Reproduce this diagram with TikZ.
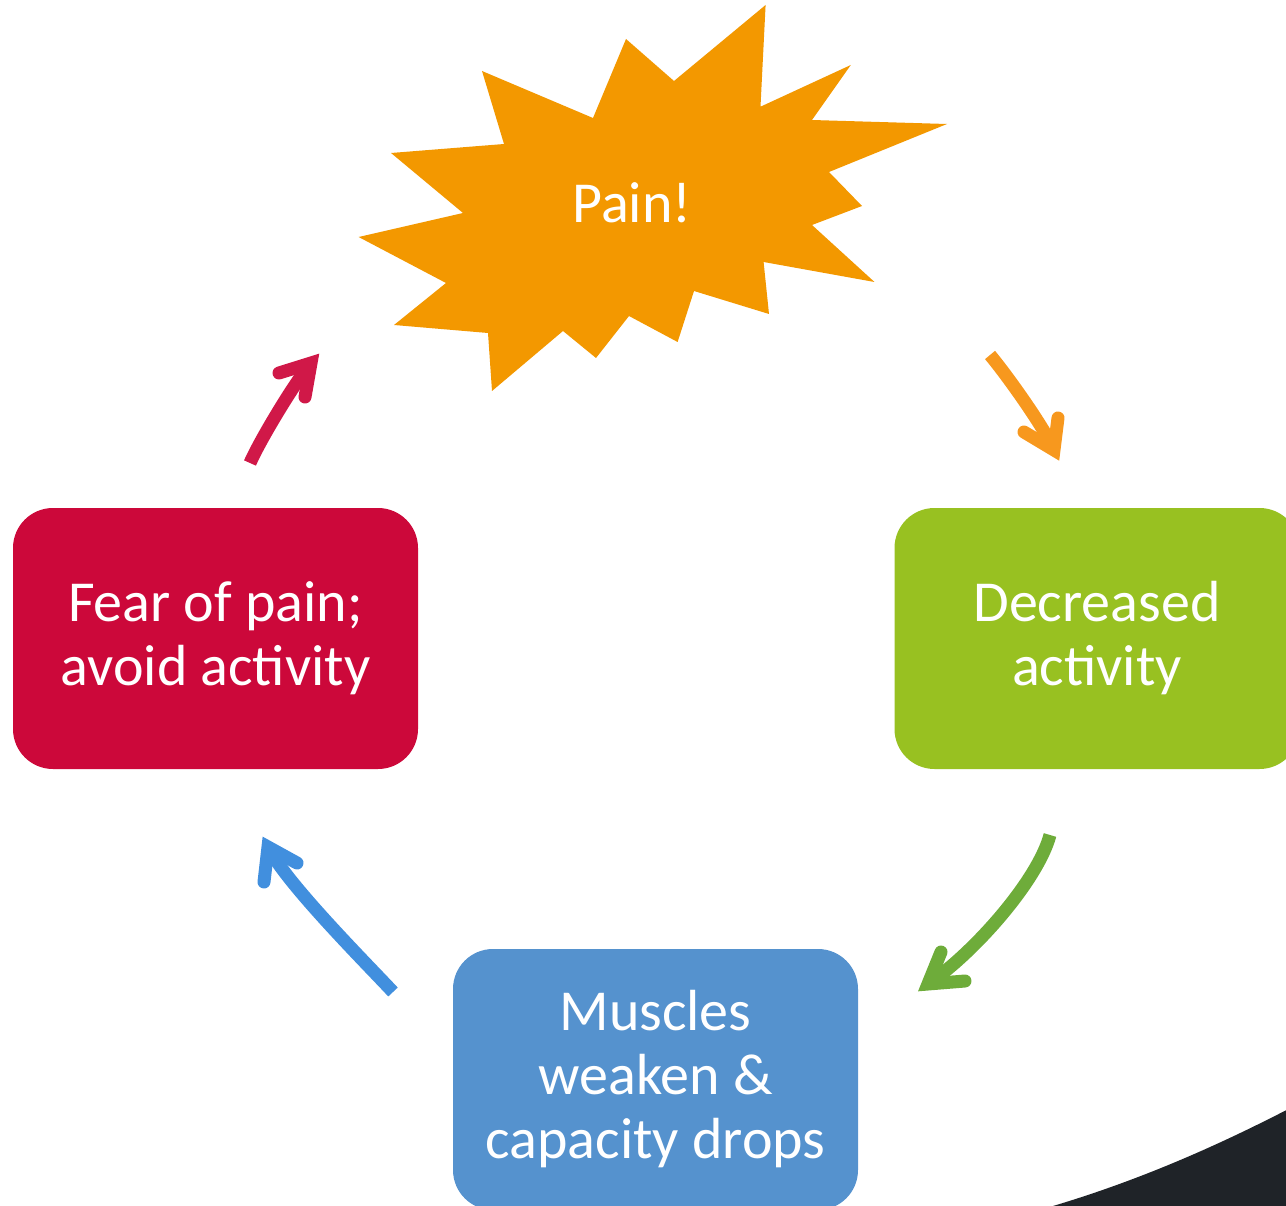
\documentclass[tikz,border=0pt]{standalone}
\usepackage{fontspec}
\setmainfont{Carlito}
\definecolor{boxred}{RGB}{204,8,58}
\definecolor{boxgreen}{RGB}{152,193,33}
\definecolor{boxblue}{RGB}{85,146,206}
\definecolor{starorange}{RGB}{243,152,0}
\definecolor{arrorange}{RGB}{247,152,30}
\definecolor{arrgreen}{RGB}{110,172,58}
\definecolor{arrblue}{RGB}{65,143,222}
\definecolor{arrred}{RGB}{208,24,72}
\definecolor{darkbg}{RGB}{31,35,40}
\begin{document}
\begin{tikzpicture}[x=1pt,y=-1pt,
  cyclebox/.style={minimum width=405pt,minimum height=261pt,rounded corners=40pt,inner sep=0pt,
    align=center,text=white,font=\fontsize{58}{64}\selectfont},
  shaft/.style={line width=13pt,line cap=butt},
  barb/.style={line width=13pt,line cap=round,line join=miter}]
\useasboundingbox (0,0) rectangle (1286,1206);
\clip (0,0) rectangle (1286,1206);
% dark corner shape
\fill[darkbg] (1053,1206) .. controls (1140,1180) and (1220,1145) .. (1300,1103) -- (1300,1220) -- (1053,1220) -- cycle;
% starburst
\fill[starorange] (765.6,5) -- (760.5,106.7) -- (850.8,65) -- (812,120) -- (947,124) -- (829,172) -- (862,206) -- (812,225) -- (874.5,282) -- (763.6,262) -- (769,314) -- (694,291) -- (677.6,342) -- (629,316) -- (596,358) -- (563,331) -- (492,391) -- (488,333) -- (394,325) -- (446,283) -- (358.6,237) -- (463,213) -- (391,153) -- (504,144) -- (482,71) -- (593,118) -- (626,39) -- (674,81) -- cycle;
\node[text=white,font=\fontsize{58}{64}\selectfont,inner sep=0pt] (pain) at (632,203) {Pain!};
% boxes
\node[cyclebox,fill=boxred] (fear) at (215.5,638.5) {\raisebox{-3pt}{\parbox{400pt}{\centering Fear of pain;\\avoid activity}}};
\node[cyclebox,fill=boxgreen] (decr) at (1097,638.5) {\raisebox{-3pt}{\parbox{400pt}{\centering Decreased\\activity}}};
\node[cyclebox,fill=boxblue] (musc) at (655.5,1079.5) {Muscles\\weaken \&\\capacity drops};
% arrow coordinates
\coordinate (oS) at (990,355); \coordinate (oT) at (1054,450);
\coordinate (gS) at (1050,835); \coordinate (gT) at (928,984);
\coordinate (bS) at (393,992); \coordinate (bT) at (268,847);
\coordinate (rS) at (250,463); \coordinate (rT) at (311,363);
% orange arrow
\draw[shaft,arrorange] (oS) .. controls (1006,374) and (1044,427) .. (oT);
\draw[barb,arrorange] (1024,432) -- (oT) -- (1058,418);
% green arrow
\draw[shaft,arrgreen] (gS) .. controls (1038,880) and (975,952) .. (gT);
\draw[barb,arrgreen] (941,952) -- (gT) -- (965,981);
% blue arrow
\draw[shaft,arrblue] (bS) .. controls (366,963) and (286,883) .. (bT);
\draw[barb,arrblue] (264,882) -- (bT) -- (297,863);
% red arrow
\draw[shaft,arrred] (rS) .. controls (260,440) and (295,382) .. (rT);
\draw[barb,arrred] (279,373) -- (rT) -- (305,397);
\end{tikzpicture}
\end{document}
